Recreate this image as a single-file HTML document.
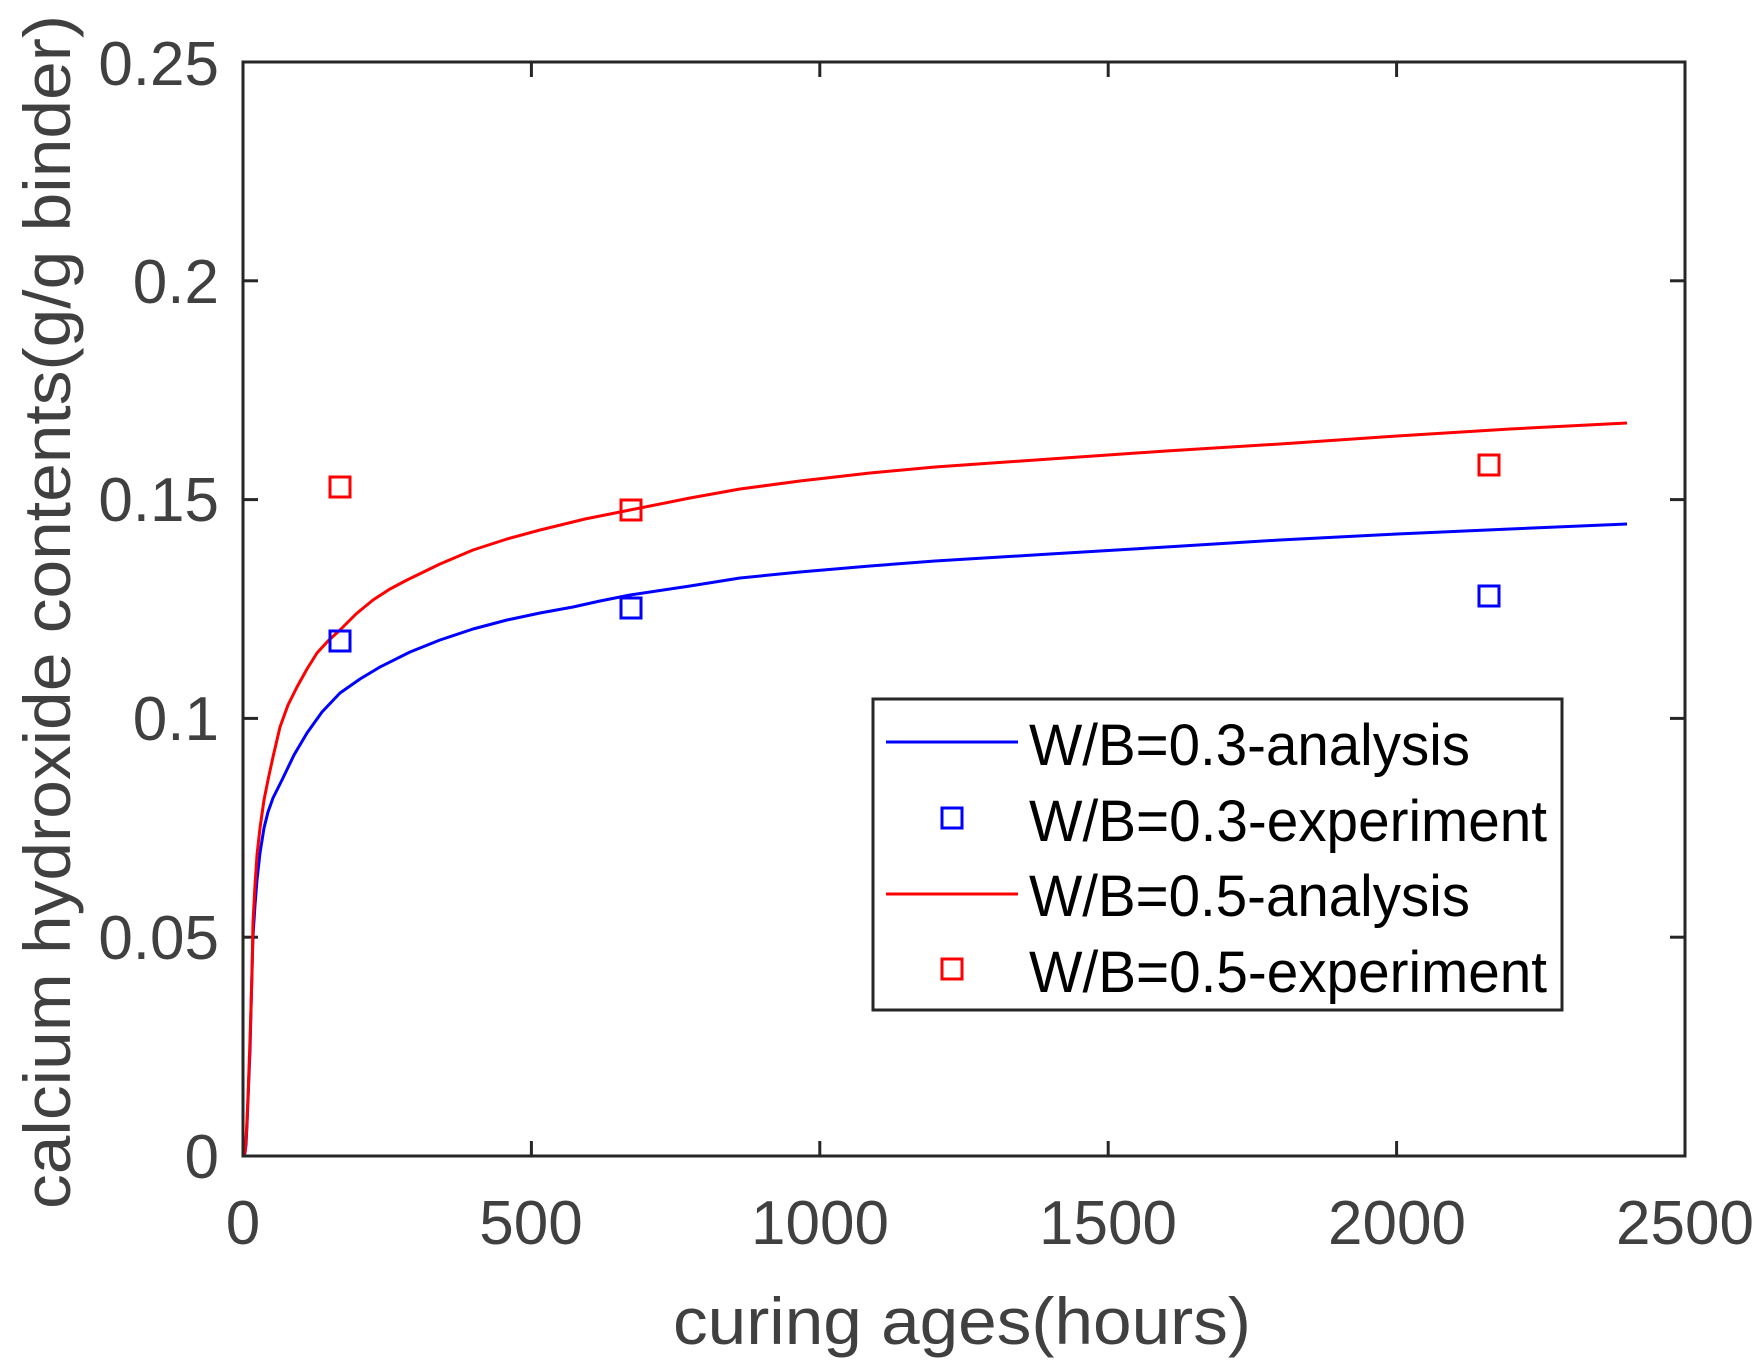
<!DOCTYPE html>
<html><head><meta charset="utf-8"><style>html,body{margin:0;padding:0;background:#fff}svg{display:block}</style></head>
<body>
<svg width="1764" height="1368" viewBox="0 0 1764 1368" xmlns="http://www.w3.org/2000/svg" font-family="Liberation Sans, sans-serif">
<rect width="1764" height="1368" fill="#fff"/>
<g stroke="#262626" stroke-width="3">
<line x1="531.4" y1="1156" x2="531.4" y2="1141"/><line x1="819.8" y1="1156" x2="819.8" y2="1141"/><line x1="1108.2" y1="1156" x2="1108.2" y2="1141"/><line x1="1396.6" y1="1156" x2="1396.6" y2="1141"/>
<line x1="531.4" y1="62" x2="531.4" y2="77"/><line x1="819.8" y1="62" x2="819.8" y2="77"/><line x1="1108.2" y1="62" x2="1108.2" y2="77"/><line x1="1396.6" y1="62" x2="1396.6" y2="77"/>
<line x1="243" y1="937.2" x2="258" y2="937.2"/><line x1="243" y1="718.4" x2="258" y2="718.4"/><line x1="243" y1="499.6" x2="258" y2="499.6"/><line x1="243" y1="280.8" x2="258" y2="280.8"/>
<line x1="1685" y1="937.2" x2="1670" y2="937.2"/><line x1="1685" y1="718.4" x2="1670" y2="718.4"/><line x1="1685" y1="499.6" x2="1670" y2="499.6"/><line x1="1685" y1="280.8" x2="1670" y2="280.8"/>
</g>
<polyline fill="none" stroke="#0000ff" stroke-width="3" stroke-linejoin="round" points="243,1156 245,1153 246,1145 247,1125 248,1100 249,1075 250,1051 251,1010 252,970 253,936 255,905 257,880 260,853 264,828 268,812 273,798 282,780 294,755 307,733 322,712 340,693 360,679 380,667 410,652 440,640 473,629 507,620 540,613 573,607 600,601 630,595 690,586 740,578 800,572 870,566 935,561 1050,554 1166,547 1280,540 1397,534 1510,529 1627,524"/>
<polyline fill="none" stroke="#ff0000" stroke-width="3" stroke-linejoin="round" points="243,1156 245,1152 246,1140 247,1120 248,1097 250,1040 252,975 253,922 255,885 257,855 260,828 264,800 268,780 273,757 280,727 288,705 297,687 307,669 317,653 328,641 340,630 356,614 373,600 390,589 407,580 440,564 473,550 507,539 540,530 585,519 630,510 690,498 740,489 800,481 870,473 935,467 1050,459 1166,451 1280,444 1397,436 1510,429 1627,423"/>
<g fill="none" stroke-width="3">
<rect x="330" y="631" width="20" height="20" stroke="#0000ff"/>
<rect x="621" y="598" width="20" height="20" stroke="#0000ff"/>
<rect x="1479" y="586" width="20" height="20" stroke="#0000ff"/>
<rect x="330" y="477" width="20" height="20" stroke="#ff0000"/>
<rect x="621" y="500" width="20" height="20" stroke="#ff0000"/>
<rect x="1479" y="455" width="20" height="20" stroke="#ff0000"/>
</g>
<rect x="243" y="62" width="1442" height="1094" fill="none" stroke="#262626" stroke-width="3"/>
<g fill="#404040" font-size="62">
<g text-anchor="end">
<text x="219" y="1178">0</text><text x="219" y="959">0.05</text><text x="219" y="740">0.1</text><text x="219" y="521">0.15</text><text x="219" y="303">0.2</text><text x="219" y="85">0.25</text>
</g>
<g text-anchor="middle">
<text x="243" y="1244">0</text><text x="531" y="1244">500</text><text x="820" y="1244">1000</text><text x="1108" y="1244">1500</text><text x="1397" y="1244">2000</text><text x="1685" y="1244">2500</text>
</g>
<text x="673" y="1344" textLength="578" lengthAdjust="spacingAndGlyphs" font-size="66">curing ages(hours)</text>
<text transform="translate(70,1209) rotate(-90)" textLength="1194" lengthAdjust="spacingAndGlyphs" font-size="66">calcium hydroxide contents(g/g binder)</text>
</g>
<rect x="873" y="699" width="689" height="311" fill="#fff" stroke="#262626" stroke-width="3"/>
<line x1="886" y1="742" x2="1018" y2="742" stroke="#0000ff" stroke-width="3"/>
<line x1="886" y1="894" x2="1018" y2="894" stroke="#ff0000" stroke-width="3"/>
<rect x="942" y="808" width="20" height="20" fill="none" stroke="#0000ff" stroke-width="3"/>
<rect x="942" y="959" width="20" height="20" fill="none" stroke="#ff0000" stroke-width="3"/>
<g fill="#000" font-size="58">
<text x="1029" y="765" textLength="441" lengthAdjust="spacingAndGlyphs">W/B=0.3-analysis</text>
<text x="1029" y="841" textLength="518" lengthAdjust="spacingAndGlyphs">W/B=0.3-experiment</text>
<text x="1029" y="916" textLength="441" lengthAdjust="spacingAndGlyphs">W/B=0.5-analysis</text>
<text x="1029" y="992" textLength="518" lengthAdjust="spacingAndGlyphs">W/B=0.5-experiment</text>
</g>
</svg>
</body></html>
